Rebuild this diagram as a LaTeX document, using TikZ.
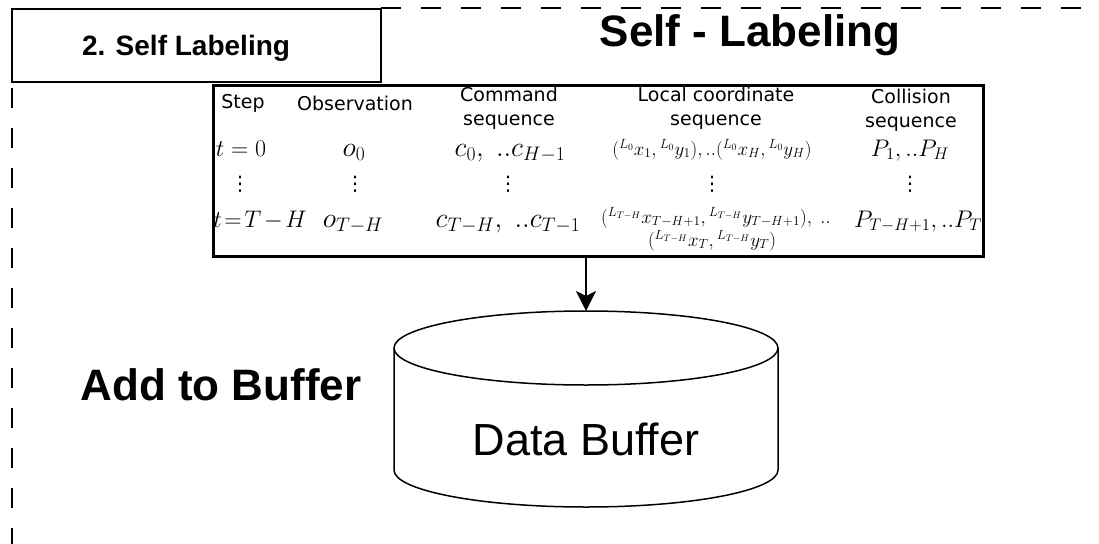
\documentclass[tikz,border=0pt]{standalone}
\usepackage{fix-cm}
\usepackage[no-math]{fontspec}
\setmainfont{Liberation Sans}
\newfontfamily\hdrfont{DejaVu Sans}
\usetikzlibrary{arrows.meta}

\tikzset{
	frame/.style={draw, line width=3pt},
	groupline/.style={line width=2.5pt, dash pattern=on 20pt off 20pt},
	bigtitle/.style={font=\fontsize{44}{50}\selectfont\bfseries, inner sep=0pt},
	hdr/.style={font=\hdrfont\fontsize{19}{24}\selectfont, align=center, inner sep=0pt},
	cell/.style={font=\fontsize{24}{28}\selectfont, inner sep=0pt},
	bigcell/.style={font=\fontsize{28}{32}\selectfont, inner sep=0pt},
	loc/.style={font=\fontsize{19}{22}\selectfont, inner sep=0pt},
	dots/.style={font=\hdrfont\fontsize{20}{24}\selectfont, inner sep=0pt},
	buffer/.style={line width=1.5pt}
}

\begin{document}
\begin{tikzpicture}[x=1pt,y=-1pt]
	%%%%% START %%%%%
	\useasboundingbox (0,0) rectangle (1099,543);
	
	% dashed group border, cut off by the page
	\draw[groupline] (381,8) -- (1120,8);
	\draw[groupline] (12,88) -- (12,560);
	
	\node[frame, line width=2.5pt, minimum width=369pt, minimum height=73pt] (titlebox) at (196.5,45.5) {};
	\node[font=\fontsize{28}{34}\selectfont\bfseries, anchor=base] (title) at (186,56) {2. Self Labeling};
	\node[bigtitle, anchor=base] (heading) at (750,47) {Self - Labeling};
	
	% the table
	\node[frame, minimum width=770pt, minimum height=171pt] (tbl) at (598,170.5) {};
	
	\node[hdr] (hstep) at (243,103) {Step};
	\node[hdr] (hobs) at (355,103) {Observation};
	\node[hdr] (hcmd) at (509,108) {Command\\sequence};
	\node[hdr] (hloc) at (716,108) {Local coordinate\\sequence};
	\node[hdr] (hcol) at (911,110) {Collision\\sequence};
	
	\node[cell, anchor=base] (s1) at (241,156) {$t=0$};
	\node[bigcell, anchor=base] (o1) at (354,156) {$o_0$};
	\node[bigcell, anchor=base] (c1) at (510,156) {$c_0,\ ..c_{H-1}$};
	\node[loc, anchor=base] (l1) at (712,155) {$({}^{L_0}x_1, {}^{L_0}y_1), ..({}^{L_0}x_H, {}^{L_0}y_H)$};
	\node[cell, anchor=base] (p1) at (910,156) {$P_1, ..P_H$};
	
	\foreach \x/\n in {240/s, 355/o, 508/c, 712/l, 910/p}
		\node[dots] (\n dots) at (\x,184) {⋮};
	
	\node[cell, anchor=base] (s2) at (260,227) {$\thickmuskip=2mu \medmuskip=2mu t=T-H$};
	\node[bigcell, anchor=base] (o2) at (353,227) {$o_{T-H}$};
	\node[bigcell, anchor=base] (c2) at (508,227) {$c_{T-H},\ ..c_{T-1}$};
	\node[loc, anchor=base] (l2) at (716,223) {$({}^{L_{T-H}}x_{T-H+1}, {}^{L_{T-H}}y_{T-H+1}),\ ..$};
	\node[loc, anchor=base] (l3) at (712,246) {$({}^{L_{T-H}}x_T, {}^{L_{T-H}}y_T)$};
	\node[cell, anchor=base] (p2) at (918,227) {$P_{T-H+1}, ..P_T$};
	
	% data buffer
	\coordinate (buftop) at (586,311);
	\draw[buffer] (586,348) ellipse [x radius=192pt, y radius=37pt];
	\draw[buffer] (394,348) -- (394,470) arc[start angle=180, end angle=360, x radius=192pt, y radius=37pt] -- (778,348);
	\node[font=\fontsize{45}{50}\selectfont, anchor=base] (buf) at (586,455) {Data Buffer};
	
	\draw[buffer, -{Stealth[length=20pt, width=20pt, inset=5pt]}] (tbl.south -| buftop) -- (buftop);
	
	\node[bigtitle, anchor=base] (addbuf) at (221,400) {Add to Buffer};
	
	%%%%% END %%%%%
\end{tikzpicture}
\end{document}
